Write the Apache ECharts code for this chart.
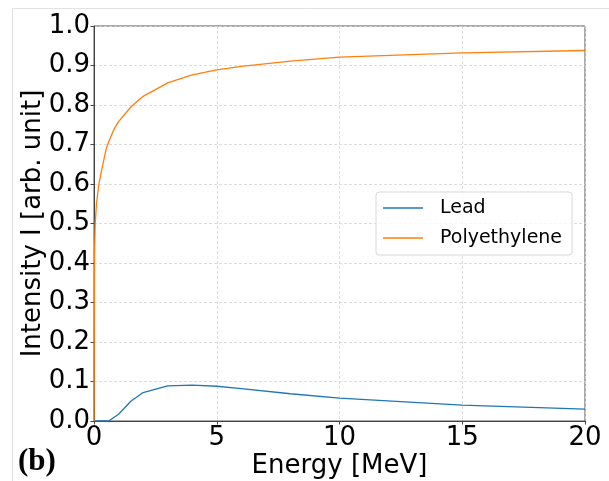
<!DOCTYPE html>
<html>
<head>
<meta charset="utf-8">
<script src="https://cdn.jsdelivr.net/npm/echarts@6/dist/echarts.min.js"></script>
<style>
html,body{margin:0;padding:0;background:#fff;}
#c{width:609px;height:481px;}
</style>
</head>
<body>
<div id="c"></div>
<script>
// Energy [MeV] sample points and intensities
const leadEnergy = [0, 0.6, 1, 1.5, 2, 3, 4, 5, 6, 8, 10, 15, 20];
const leadIntensity = [0, 0, 0.017, 0.05, 0.072, 0.089, 0.091, 0.088, 0.082, 0.069, 0.058, 0.040, 0.030];

const polyEnergy = [0, 0.02, 0.05, 0.1, 0.2, 0.3, 0.5, 0.6, 0.8, 1, 1.5, 2, 3, 4, 5, 6, 8, 10, 15, 20];
const polyIntensity = [0, 0.42, 0.5, 0.55, 0.6, 0.632, 0.69, 0.707, 0.737, 0.758, 0.795, 0.822, 0.856, 0.876, 0.889, 0.898, 0.911, 0.921, 0.932, 0.938];

const seriesNames = ['Lead', 'Polyethylene'];
const xTicks = [0, 5, 10, 15, 20];
const yTicks = [0, 0.1, 0.2, 0.3, 0.4, 0.5, 0.6, 0.7, 0.8, 0.9, 1.0];

const pairs = (xs, ys) => xs.map((x, i) => [x, ys[i]]);

const chart = echarts.init(document.getElementById('c'), null, {renderer: 'canvas'});
const FONT = 'DejaVu Sans';
const gridLine = {show: true, lineStyle: {color: '#d4d4d4', width: 0.8, type: [3, 2]}};

chart.setOption({
  animation: false,
  backgroundColor: '#ffffff',
  grid: {left: 94, top: 26, right: 24, bottom: 60, show: true, borderColor: '#555', borderWidth: 1, backgroundColor: 'transparent'},
  xAxis: {
    type: 'value', min: xTicks[0], max: xTicks[xTicks.length - 1], interval: 5,
    axisLine: {show: true, onZero: false, lineStyle: {color: '#444', width: 1}},
    axisTick: {show: true, length: 3.5, lineStyle: {color: '#444'}},
    axisLabel: {show: true, fontFamily: FONT, fontSize: 26, color: '#000', margin: 4},
    splitLine: gridLine
  },
  yAxis: {
    type: 'value', min: yTicks[0], max: yTicks[yTicks.length - 1], interval: 0.1,
    axisLine: {show: true, onZero: false, lineStyle: {color: '#444', width: 1}},
    axisTick: {show: true, length: 3.5, lineStyle: {color: '#444'}},
    axisLabel: {show: true, fontFamily: FONT, fontSize: 26, color: '#000', margin: 4,
      formatter: v => v.toFixed(1)},
    splitLine: gridLine
  },
  legend: {
    orient: 'vertical', left: 376, top: 192,
    data: seriesNames,
    icon: 'rect',
    itemWidth: 40, itemHeight: 1.3, itemGap: 8,
    padding: [5, 10, 6, 7],
    backgroundColor: 'rgba(255,255,255,0.8)',
    borderColor: '#d8d8d8', borderWidth: 1, borderRadius: 3,
    textStyle: {fontFamily: FONT, fontSize: 19, color: '#000', lineHeight: 22, padding: [0, 0, 0, 12]}
  },
  series: [
    {name: seriesNames[0], type: 'line', data: pairs(leadEnergy, leadIntensity), symbol: 'none',
     color: '#1f77b4', lineStyle: {color: '#1f77b4', width: 1.3}, z: 3},
    {name: seriesNames[1], type: 'line', data: pairs(polyEnergy, polyIntensity), symbol: 'none',
     color: '#ff7f0e', lineStyle: {color: '#ff7f0e', width: 1.3}, z: 4}
  ],
  graphic: [
    {type: 'line', shape: {x1: 12, y1: 8.5, x2: 609, y2: 8.5}, style: {stroke: '#e2e2e2', lineWidth: 1}},
    {type: 'line', shape: {x1: 12.5, y1: 8, x2: 12.5, y2: 481}, style: {stroke: '#e2e2e2', lineWidth: 1}},
    {type: 'text', x: 33, y: 223.5, rotation: Math.PI / 2,
     style: {text: 'Intensity I [arb. unit]', font: '26px "DejaVu Sans"', fill: '#000', textAlign: 'center', textVerticalAlign: 'middle'}},
    {type: 'text', x: 339.5, y: 466,
     style: {text: 'Energy [MeV]', font: '26px "DejaVu Sans"', fill: '#000', textAlign: 'center', textVerticalAlign: 'middle'}},
    {type: 'text', x: 18, y: 462,
     style: {text: '(b)', font: 'bold 31px "Liberation Serif"', fill: '#000', textAlign: 'left', textVerticalAlign: 'middle'}}
  ]
});
</script>
</body>
</html>
